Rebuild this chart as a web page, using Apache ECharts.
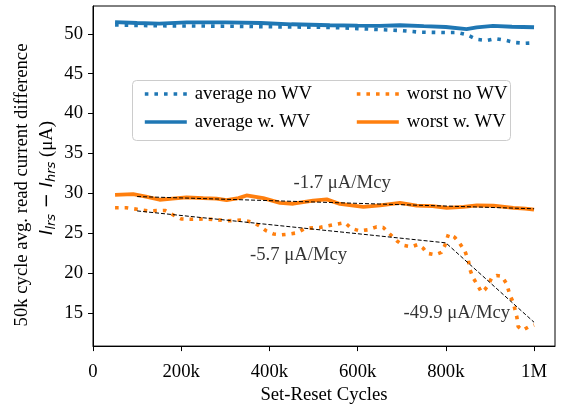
<!DOCTYPE html>
<html>
<head>
<meta charset="utf-8">
<script src="https://cdn.jsdelivr.net/npm/echarts@6/dist/echarts.min.js"></script>
<style>html,body{margin:0;padding:0;background:#fff}#c{width:564px;height:410px}</style>
</head>
<body>
<div id="c"></div>
<script>
// ---- data (x in thousands of cycles, y in µA) ----
const avgWVX   = [50,100,150,212,300,380,450,537,600,650,696,750,800,847,870,907,950,1000];
const avgWVY   = [51.47,51.35,51.27,51.43,51.43,51.35,51.19,51.07,51.02,51.0,51.07,50.95,50.85,50.58,50.8,51.0,50.88,50.82];
const avgNoX   = [50,150,300,450,537,600,700,741,800,827,847,870,893,913,934,957,980,1000];
const avgNoY   = [51.1,51.0,50.95,50.85,50.8,50.65,50.4,50.2,50.15,50.15,49.9,49.3,49.15,49.38,49.2,48.9,48.8,48.85];
const worstWVX = [50,91,120,151,180,212,250,280,303,330,348,386,424,454,499,530,560,613,651,696,734,770,802,840,870,908,953,980,1000];
const worstWVY = [29.82,29.9,29.6,29.2,29.35,29.5,29.4,29.33,29.16,29.4,29.74,29.4,28.8,28.7,29.08,29.25,28.67,28.3,28.5,28.8,28.47,28.4,28.18,28.3,28.5,28.47,28.18,28.1,27.95];
const worstNoX = [50,75,100,125,163,185,200,225,253,280,303,340,363,378,393,410,427,445,462,480,514,552,571,586,605,624,643,658,673,690,703,722,737,749,757,775,790,798,806,820,832,843,851,855,862,871,881,888,894,904,915,927,938,945,953,961,964,974,987,1000];
const worstNoY = [28.2,28.2,28.0,27.8,27.86,27.2,26.8,26.75,26.8,26.7,26.55,26.67,26.35,25.9,25.3,24.9,24.8,24.9,25.05,25.6,25.73,26.14,26.34,25.6,25.3,25.44,25.8,25.73,24.9,24.0,23.5,23.3,23.6,23.1,22.5,22.3,22.6,23.5,24.9,24.5,23.7,22.8,21.6,20.4,19.4,18.6,17.6,17.9,18.35,19.4,19.7,19.6,18.65,17.3,16.3,14.5,13.3,12.85,13.25,13.5];
// fit lines
const fitWVX = [100,1000];      const fitWVY = [29.6,28.07];
const fitNoX = [100,800,1000];  const fitNoY = [27.8,23.8,13.85];
// annotations
const noteText = ['-1.7 μA/Mcy','-5.7 μA/Mcy','-49.9 μA/Mcy'];
const noteX = [565,466,825];
const noteY = [31.25,22.25,15.05];
// ticks
const xTicks = [0,200000,400000,600000,800000,1000000];
const yTicks = [15,20,25,30,35,40,45,50];

const pair = (xs, ys) => xs.map((x, i) => [x * 1000, ys[i]]);
const FONT = 'Liberation Serif';
const FS = 18.7;
const BLUE = '#1f77b4', ORANGE = '#ff7f0e';
const DOT = [3.6, 6];

const legendCommon = {
  orient: 'vertical', top: 79, itemWidth: 42, itemHeight: 14, itemGap: 8, selectedMode: false,
  itemStyle: {opacity: 0, borderWidth: 0},
  lineStyle: {width: 3.6},
  textStyle: {fontFamily: FONT, fontSize: FS, color: '#000', lineHeight: 20, padding: [0, 0, 0, 3]}
};

const chart = echarts.init(document.getElementById('c'), null, {renderer: 'canvas'});
chart.setOption({
  animation: false,
  backgroundColor: '#fff',
  grid: {left: 93, right: 9, top: 6, bottom: 57, show: true, borderColor: '#000', borderWidth: 1, backgroundColor: 'transparent'},
  xAxis: {
    type: 'value', min: 0, max: 1047500,
    name: 'Set-Reset Cycles', nameLocation: 'middle', nameGap: 39,
    nameTextStyle: {fontFamily: FONT, fontSize: FS, color: '#000'},
    axisLine: {lineStyle: {color: '#000', width: 1}},
    axisTick: {show: true, length: 5, customValues: xTicks, lineStyle: {color: '#000'}},
    axisLabel: {customValues: xTicks, margin: 16, fontFamily: FONT, fontSize: FS, color: '#000',
      formatter: v => v === 0 ? '0' : (v >= 1000000 ? (v / 1000000) + 'M' : (v / 1000) + 'k')},
    splitLine: {show: false}
  },
  yAxis: {
    type: 'value', min: 10.86, max: 53.48,
    axisLine: {show: true, lineStyle: {color: '#000', width: 1}},
    axisTick: {show: true, length: 5, customValues: yTicks, lineStyle: {color: '#000'}},
    axisLabel: {customValues: yTicks, margin: 10, fontFamily: FONT, fontSize: FS, color: '#000'},
    splitLine: {show: false}
  },
  legend: [
    Object.assign({data: ['average no WV', 'average w. WV'], left: 138}, legendCommon),
    Object.assign({data: ['worst no WV', 'worst w. WV'], left: 350}, legendCommon)
  ],
  graphic: [
    {type: 'rect', z: 0, zlevel: 0, shape: {x: 132.5, y: 80.5, width: 378, height: 60, r: 4},
     style: {fill: '#fff', stroke: '#cccccc', lineWidth: 1}},
    {type: 'text', x: 22, y: 185, rotation: Math.PI / 2,
     style: {text: '50k cycle avg. read current difference', fontFamily: FONT, fontSize: FS, fill: '#000',
             align: 'center', verticalAlign: 'middle'}},
    {type: 'text', x: 47, y: 178, rotation: Math.PI / 2,
     style: {text: '{i|I}{s|lrs}{n| − }{i|I}{s|hrs}{r| (μA)}', align: 'center', verticalAlign: 'middle', fill: '#000',
             rich: {
               i: {fontFamily: 'DejaVu Sans', fontStyle: 'italic', fontSize: 18, fill: '#000'},
               s: {fontFamily: 'DejaVu Sans', fontStyle: 'italic', fontSize: 13, fill: '#000', padding: [9, 0, 0, 0]},
               n: {fontFamily: 'DejaVu Sans', fontSize: 18, fill: '#000'},
               r: {fontFamily: FONT, fontSize: FS, fill: '#000'}
             }}}
  ],
  series: [
    {name: 'average no WV', type: 'line', data: pair(avgNoX, avgNoY), symbol: 'none', z: 3,
     color: BLUE, lineStyle: {color: BLUE, width: 3.6, type: DOT, cap: 'butt'}},
    {name: 'worst no WV', type: 'line', data: pair(worstNoX, worstNoY), symbol: 'none', z: 3,
     color: ORANGE, lineStyle: {color: ORANGE, width: 3.6, type: DOT, cap: 'butt'}},
    {name: 'average w. WV', type: 'line', data: pair(avgWVX, avgWVY), symbol: 'none', z: 3,
     color: BLUE, lineStyle: {color: BLUE, width: 3.8, type: 'solid'}},
    {name: 'worst w. WV', type: 'line', data: pair(worstWVX, worstWVY), symbol: 'none', z: 3,
     color: ORANGE, lineStyle: {color: ORANGE, width: 3.8, type: 'solid'}},
    {name: 'fitWV', type: 'line', data: pair(fitWVX, fitWVY), symbol: 'none', z: 4,
     lineStyle: {color: '#000', width: 1, type: [4, 2]}},
    {name: 'fitNo', type: 'line', data: pair(fitNoX, fitNoY), symbol: 'none', z: 4,
     lineStyle: {color: '#000', width: 1, type: [4, 2]}},
    {name: 'notes', type: 'scatter', symbolSize: 0, z: 5,
     data: noteText.map((t, i) => ({name: t, value: [noteX[i] * 1000, noteY[i]]})),
     label: {show: true, position: 'inside', formatter: p => p.name, fontFamily: FONT, fontSize: FS, color: '#000'}}
  ]
});
</script>
</body>
</html>
